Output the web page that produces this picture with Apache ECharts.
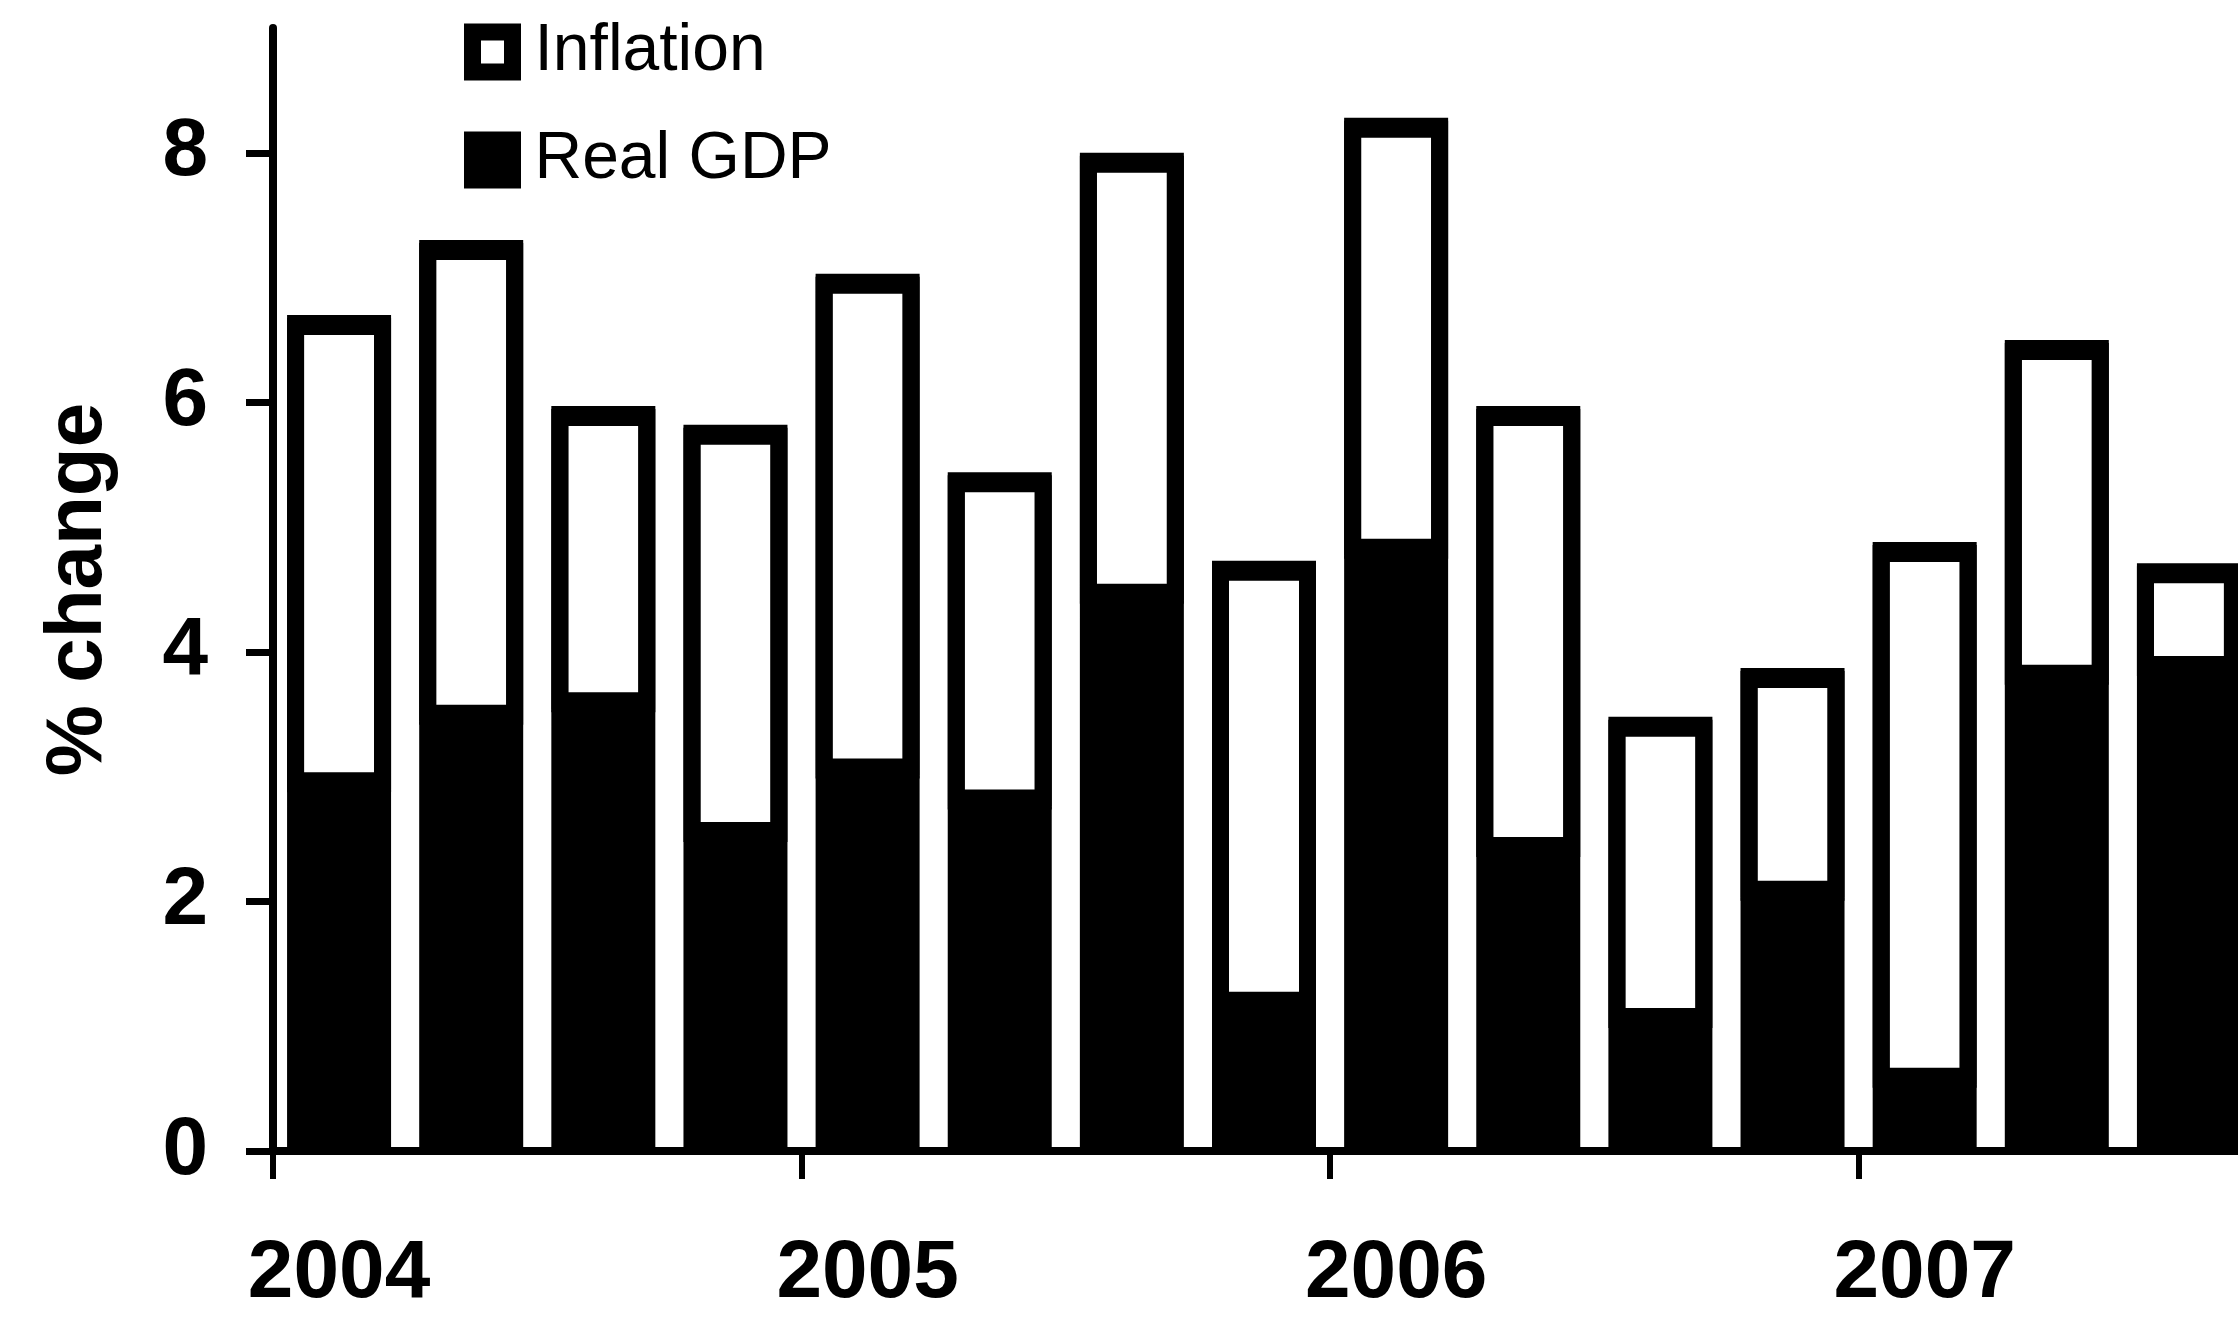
<!DOCTYPE html>
<html>
<head>
<meta charset="utf-8">
<script src="https://cdn.jsdelivr.net/npm/echarts@6/dist/echarts.min.js"></script>
<style>
html,body{margin:0;padding:0;background:#fff;}
#chart{width:2238px;height:1319px;}
</style>
</head>
<body>
<div id="chart"></div>
<script>
const quarters = ['2004 Q1','2004 Q2','2004 Q3','2004 Q4','2005 Q1','2005 Q2','2005 Q3','2005 Q4','2006 Q1','2006 Q2','2006 Q3','2006 Q4','2007 Q1','2007 Q2','2007 Q3'];
const realGDP = [2.90,3.44,3.54,2.50,3.01,2.76,4.41,1.14,4.77,2.38,1.01,2.03,0.53,3.76,3.83];
const inflation = [3.80,3.86,2.43,3.32,4.02,2.68,3.59,3.59,3.51,3.59,2.47,1.84,4.35,2.74,0.88];
const yTicks = [0,2,4,6,8];
const seriesNames = ['Inflation','Real GDP'];

const FONT = "'Liberation Sans', Arial, Helvetica, sans-serif";
const chart = echarts.init(document.getElementById('chart'));
chart.setOption({
  animation: false,
  backgroundColor: '#fff',
  legend: {
    orient: 'vertical',
    left: 464,
    top: 12,
    padding: 0,
    itemGap: 28,
    itemWidth: 40,
    itemHeight: 40,
    textStyle: {fontFamily: FONT, fontSize: 66, color: '#000', lineHeight: 66, padding: [14,0,0,17]},
    data: [
      {name: seriesNames[0], icon: 'rect', itemStyle: {color: '#fff', borderColor: '#000', borderWidth: 17}},
      {name: seriesNames[1], icon: 'rect', itemStyle: {color: '#000', borderColor: '#000', borderWidth: 17}}
    ]
  },
  grid: {left: 273, right: -17, top: 28, bottom: 168, containLabel: false, outerBoundsMode: 'none'},
  xAxis: {
    type: 'category',
    data: quarters,
    boundaryGap: true,
    axisLine: {lineStyle: {color: '#000', width: 8}},
    axisTick: {show: true, interval: 3, length: 28, lineStyle: {color: '#000', width: 6}},
    axisLabel: {
      interval: 3, margin: 82, color: '#000', fontFamily: FONT, fontWeight: 'bold', fontSize: 82,
      formatter: v => v.slice(0, 4)
    },
    splitLine: {show: false}
  },
  yAxis: {
    type: 'value',
    min: 0, max: 9,
    name: '% change',
    nameLocation: 'middle',
    nameRotate: 90,
    nameGap: 154,
    nameTextStyle: {fontFamily: FONT, fontWeight: 'bold', fontSize: 80, color: '#000'},
    axisLine: {show: true, lineStyle: {color: '#000', width: 8}},
    axisTick: {show: true, length: 27, customValues: yTicks, lineStyle: {color: '#000', width: 7}},
    axisLabel: {customValues: yTicks, margin: 65, color: '#000', fontFamily: FONT, fontWeight: 'bold', fontSize: 82},
    splitLine: {show: false}
  },
  series: [
    {
      name: seriesNames[1], type: 'bar', stack: 'total', barWidth: 104,
      itemStyle: {color: '#000', borderColor: '#000', borderWidth: 17},
      data: realGDP
    },
    {
      name: seriesNames[0], type: 'bar', stack: 'total', barWidth: 104,
      itemStyle: {color: '#fff', borderColor: '#000', borderWidth: 17,
                  shadowColor: '#000', shadowBlur: 0, shadowOffsetX: 0, shadowOffsetY: 3},
      data: inflation
    }
  ]
});
</script>
</body>
</html>
